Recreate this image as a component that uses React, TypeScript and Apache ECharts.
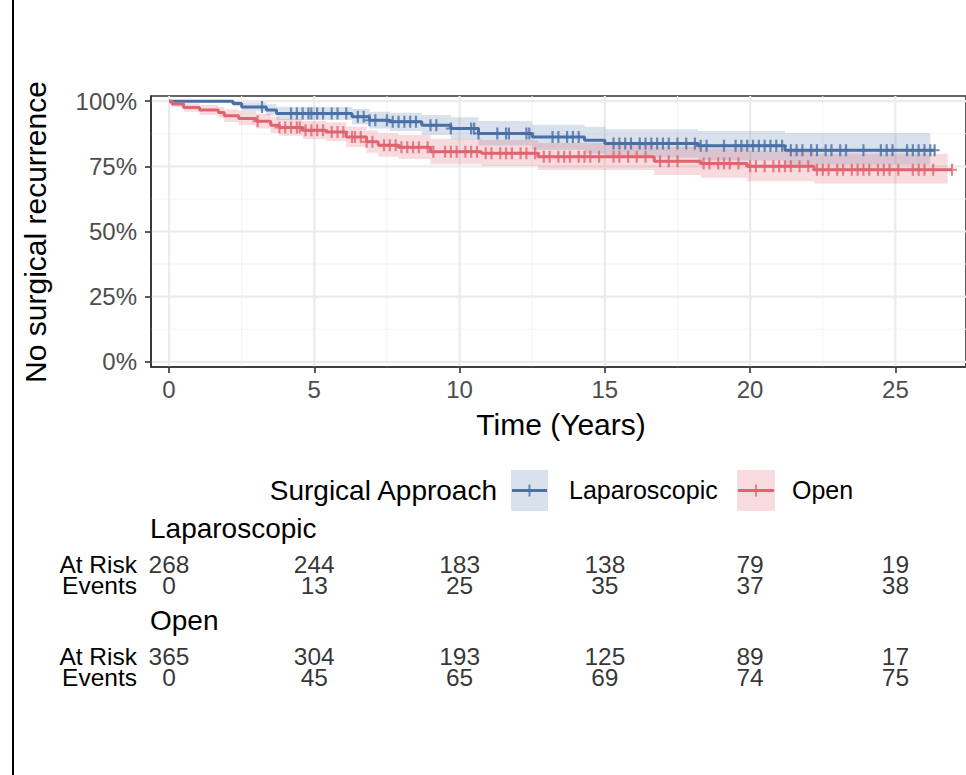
import React, { useEffect, useRef } from "react";
import * as echarts from "echarts";

// ---------- data ----------
const lapTime = [0, 2.2, 2.5, 3.35, 3.7, 6.3, 6.9, 7.6, 8.7, 9.7, 10.65, 12.5, 14.3, 15.0, 18.2, 21.2];
const lapSurv = [100, 99.1, 97.8, 96.6, 95.3, 94.0, 92.7, 92.1, 90.8, 89.5, 87.6, 86.3, 85.0, 83.8, 82.9, 81.2];
const lapLower = [100, 98.0, 96.1, 94.5, 92.8, 91.1, 89.5, 88.6, 87.0, 85.4, 83.0, 81.4, 79.8, 78.3, 77.2, 75.6];
const lapUpper = [100, 100, 99.5, 98.8, 97.9, 97.0, 96.0, 95.6, 94.7, 93.8, 92.4, 91.0, 90.2, 89.2, 88.6, 87.8];
const lapBandEnd = 26.2;
const lapLineEnd = 26.35;
const lapCensor = [3.2, 4.2, 4.4, 4.6, 4.8, 4.9, 5.1, 5.3, 5.6, 5.8, 6.1, 6.5, 6.7, 6.9, 7.1, 7.5, 7.7, 7.9, 8.1, 8.3, 8.5, 9.0, 9.2, 9.7, 10.4, 10.5, 10.65, 11.3, 11.6, 11.7, 12.3, 12.4, 13.2, 13.4, 13.7, 13.9, 14.1, 15.3, 15.5, 15.7, 15.9, 16.2, 16.4, 16.6, 16.8, 17.0, 17.2, 17.5, 17.8, 18.1, 18.3, 18.5, 19.1, 19.5, 19.7, 19.9, 20.1, 20.3, 20.5, 20.7, 20.9, 21.1, 21.4, 21.6, 21.8, 22.1, 22.3, 22.6, 22.8, 23.1, 23.3, 23.9, 24.5, 24.7, 24.9, 25.4, 25.6, 25.8, 26.0, 26.2, 26.35];

const openTime = [0, 0.1, 0.5, 1.05, 1.7, 1.9, 2.4, 3.0, 3.5, 3.8, 4.6, 5.4, 6.1, 6.8, 7.2, 7.9, 9.0, 10.75, 12.7, 16.7, 18.3, 19.9, 22.2];
const openSurv = [100, 98.9, 97.6, 96.6, 95.7, 94.4, 93.4, 92.3, 90.8, 89.9, 88.9, 88.2, 86.3, 84.4, 83.1, 82.3, 80.6, 80.0, 78.7, 77.0, 76.1, 75.0, 73.7];
const openLower = [100, 97.8, 96.0, 94.7, 93.6, 92.0, 90.8, 89.5, 87.8, 86.7, 85.5, 84.6, 82.4, 80.2, 78.7, 77.8, 75.8, 75.1, 73.6, 71.7, 70.6, 69.3, 68.4];
const openUpper = [100, 100, 99.2, 98.5, 97.9, 96.9, 96.1, 95.2, 93.9, 93.2, 92.4, 91.9, 90.3, 88.8, 87.7, 87.0, 85.6, 85.1, 84.0, 82.6, 81.9, 81.0, 79.8];
const openBandEnd = 26.8;
const openLineEnd = 26.95;
const openCensor = [3.05, 3.8, 4.0, 4.2, 4.4, 4.5, 4.7, 4.9, 5.1, 5.3, 5.6, 5.8, 6.0, 6.3, 6.4, 6.6, 6.8, 7.0, 7.4, 7.6, 7.8, 8.0, 8.2, 8.4, 8.6, 8.9, 9.1, 9.5, 9.7, 9.9, 10.2, 10.4, 10.6, 10.9, 11.1, 11.4, 11.6, 11.8, 12.1, 12.3, 12.6, 12.9, 13.1, 13.4, 13.6, 13.8, 14.1, 14.3, 14.5, 14.8, 15.3, 15.5, 15.8, 16.1, 16.4, 16.9, 17.2, 17.5, 18.4, 18.6, 18.9, 19.1, 19.3, 19.6, 20.0, 20.2, 20.5, 20.8, 21.0, 21.2, 21.4, 21.7, 22.0, 22.3, 22.5, 22.7, 23.0, 23.2, 23.5, 23.7, 23.9, 24.1, 24.4, 24.6, 24.8, 25.1, 25.6, 25.8, 26.0, 26.3, 26.95];

const xTicks = [0, 5, 10, 15, 20, 25];
const xMinorGrid = [2.5, 7.5, 12.5, 17.5, 22.5];
const yTicks = [0, 25, 50, 75, 100];
const yMinorGrid = [12.5, 37.5, 62.5, 87.5];

const tableTimes = [0, 5, 10, 15, 20, 25];
const lapAtRisk = [268, 244, 183, 138, 79, 19];
const lapEvents = [0, 13, 25, 35, 37, 38];
const openAtRisk = [365, 304, 193, 125, 89, 17];
const openEvents = [0, 45, 65, 69, 74, 75];
const rowNames = ["At Risk", "Events"];

// ---------- style ----------
const FONT = "'Liberation Sans', Arial, Helvetica, sans-serif";
const BLUE = "#4A6FA5";
const RED = "#E0646F";
const BLUE_FILL = "rgba(74,111,165,0.21)";
const RED_FILL = "rgba(224,100,111,0.23)";
const X_MIN = -0.62;
const X_MAX = 27.43;
const Y_MIN = -2;
const Y_MAX = 102;
const GRID_LEFT = 151;
const GRID_WIDTH = 820;

function survAt(times: number[], surv: number[], t: number) {
  let s = surv[0];
  for (let i = 0; i < times.length; i++) if (times[i] <= t) s = surv[i];
  return s;
}

function bandPoints(times: number[], lo: number[], hi: number[], end: number, api: any) {
  const pts: number[][] = [];
  for (let i = 0; i < times.length; i++) {
    const t1 = i + 1 < times.length ? times[i + 1] : end;
    pts.push(api.coord([times[i], hi[i]]), api.coord([t1, hi[i]]));
  }
  for (let i = times.length - 1; i >= 0; i--) {
    const t1 = i + 1 < times.length ? times[i + 1] : end;
    pts.push(api.coord([t1, lo[i]]), api.coord([times[i], lo[i]]));
  }
  return pts;
}

const CENSOR_SYMBOL = "path://M3.9,0H6.1V12H3.9Z M0,5H10V7H0Z";

export default function App() {
  const ref = useRef<HTMLDivElement>(null);
  useEffect(() => {
    if (!ref.current) return;
    const chart = echarts.init(ref.current, undefined, { renderer: "svg" });

    const tableXAxis = (gridIndex: number) => ({
      type: "value", gridIndex, min: X_MIN, max: X_MAX, show: false,
    });
    const tableYAxis = (gridIndex: number) => ({
      type: "category", gridIndex, data: rowNames, inverse: true,
      axisLine: { show: false }, axisTick: { show: false }, splitLine: { show: false },
      axisLabel: { interval: 0, hideOverlap: false, color: "#000", fontSize: 24.5, lineHeight: 20, fontFamily: FONT, margin: 14 },
    });
    const tableSeries = (gridIndex: number, atRisk: number[], events: number[]) => ({
      type: "scatter", xAxisIndex: gridIndex, yAxisIndex: gridIndex,
      symbol: "circle", symbolSize: 1, itemStyle: { color: "transparent" },
      silent: true,
      data: [
        ...tableTimes.map((t, i) => [t, 0, atRisk[i]]),
        ...tableTimes.map((t, i) => [t, 1, events[i]]),
      ],
      labelLayout: { hideOverlap: false },
      label: {
        show: true, position: "inside", color: "#000", fontSize: 24.5, lineHeight: 20, fontFamily: FONT,
        formatter: (p: any) => String(p.value[2]),
      },
    });

    const gridLineSeries = (vertical: boolean, values: number[], major: boolean) => ({
      type: "custom", xAxisIndex: 0, yAxisIndex: 0, z: 0, silent: true,
      data: values.map((v) => (vertical ? [v, 50] : [5, v])),
      renderItem: (params: any, api: any) => {
        const cs = params.coordSys;
        const p = api.coord([api.value(0), api.value(1)]);
        const shape = vertical
          ? { x1: p[0], y1: cs.y, x2: p[0], y2: cs.y + cs.height }
          : { x1: cs.x, y1: p[1], x2: cs.x + cs.width, y2: p[1] };
        return {
          type: "line", shape,
          style: { stroke: major ? "#ebebeb" : "#f4f4f4", lineWidth: major ? 2.2 : 1.1 },
        };
      },
    });

    const bandSeries = (times: number[], lo: number[], hi: number[], end: number, fill: string) => ({
      type: "custom", xAxisIndex: 0, yAxisIndex: 0, z: 1, silent: true, clip: true,
      data: [[0, 50]],
      renderItem: (_params: any, api: any) => ({
        type: "polygon",
        shape: { points: bandPoints(times, lo, hi, end, api) },
        style: { fill },
      }),
    });

    const lineSeries = (times: number[], surv: number[], end: number, color: string) => ({
      type: "line", xAxisIndex: 0, yAxisIndex: 0, z: 3, step: "end", showSymbol: false, silent: true,
      data: [...times.map((t, i) => [t, surv[i]]), [end, surv[surv.length - 1]]],
      lineStyle: { color, width: 3 },
      itemStyle: { color },
    });

    const censorSeries = (times: number[], surv: number[], censor: number[], color: string) => ({
      type: "scatter", xAxisIndex: 0, yAxisIndex: 0, z: 4, silent: true,
      symbol: CENSOR_SYMBOL, symbolSize: [10, 12],
      itemStyle: { color, opacity: 0.8 },
      data: censor.map((t) => [t, survAt(times, surv, t)]),
    });

    const option: any = {
      animation: false,
      backgroundColor: "#fff",
      textStyle: { fontFamily: FONT },
      grid: [
        { left: GRID_LEFT, top: 96, width: GRID_WIDTH, height: 271, show: true, backgroundColor: "#fff", borderColor: "#333", borderWidth: 1.6 },
        { left: GRID_LEFT, top: 554, width: GRID_WIDTH, height: 42, show: false },
        { left: GRID_LEFT, top: 646, width: GRID_WIDTH, height: 42, show: false },
      ],
      xAxis: [
        {
          type: "value", gridIndex: 0, min: X_MIN, max: X_MAX,
          axisLine: { show: true, onZero: false, lineStyle: { color: "#333", width: 1.6 } },
          axisTick: { show: true, customValues: xTicks, length: 6, lineStyle: { color: "#333", width: 1.6 } },
          axisLabel: { customValues: xTicks, color: "#4d4d4d", fontSize: 24, fontFamily: FONT, margin: 10 },
          splitLine: { show: false },
        },
        tableXAxis(1),
        tableXAxis(2),
      ],
      yAxis: [
        {
          type: "value", gridIndex: 0, min: Y_MIN, max: Y_MAX,
          axisLine: { show: true, onZero: false, lineStyle: { color: "#333", width: 1.6 } },
          axisTick: { show: true, customValues: yTicks, length: 6, lineStyle: { color: "#333", width: 1.6 } },
          axisLabel: { customValues: yTicks, color: "#4d4d4d", fontSize: 24, fontFamily: FONT, margin: 14, formatter: (v: number) => `${v}%` },
          splitLine: { show: false },
        },
        tableYAxis(1),
        tableYAxis(2),
      ],
      series: [
        gridLineSeries(true, xMinorGrid, false),
        gridLineSeries(false, yMinorGrid, false),
        gridLineSeries(true, xTicks, true),
        gridLineSeries(false, yTicks, true),
        bandSeries(lapTime, lapLower, lapUpper, lapBandEnd, BLUE_FILL),
        bandSeries(openTime, openLower, openUpper, openBandEnd, RED_FILL),
        lineSeries(lapTime, lapSurv, lapLineEnd, BLUE),
        lineSeries(openTime, openSurv, openLineEnd, RED),
        censorSeries(lapTime, lapSurv, lapCensor, BLUE),
        censorSeries(openTime, openSurv, openCensor, RED),
        tableSeries(1, lapAtRisk, lapEvents),
        tableSeries(2, openAtRisk, openEvents),
      ],
      graphic: [
        { type: "line", shape: { x1: 13, y1: 0, x2: 13, y2: 775 }, style: { stroke: "#000", lineWidth: 2 }, silent: true },
        {
          type: "text", x: 35, y: 232, rotation: Math.PI / 2,
          style: { text: "No surgical recurrence", fill: "#000", font: `30px ${FONT}`, align: "center", verticalAlign: "middle" },
        },
        {
          type: "text", x: 561, y: 424,
          style: { text: "Time (Years)", fill: "#000", font: `30px ${FONT}`, align: "center", verticalAlign: "middle" },
        },
        {
          type: "text", x: 497, y: 490,
          style: { text: "Surgical Approach", fill: "#000", font: `28px ${FONT}`, align: "right", verticalAlign: "middle" },
        },
        { type: "rect", shape: { x: 511, y: 470, width: 37, height: 41 }, style: { fill: BLUE_FILL } },
        { type: "line", shape: { x1: 512, y1: 490.5, x2: 547, y2: 490.5 }, style: { stroke: BLUE, lineWidth: 3 } },
        { type: "line", shape: { x1: 529.5, y1: 484.5, x2: 529.5, y2: 496.5 }, style: { stroke: BLUE, lineWidth: 2, opacity: 0.8 } },
        {
          type: "text", x: 569, y: 490,
          style: { text: "Laparoscopic", fill: "#000", font: `25px ${FONT}`, align: "left", verticalAlign: "middle" },
        },
        { type: "rect", shape: { x: 737, y: 470, width: 38, height: 41 }, style: { fill: RED_FILL } },
        { type: "line", shape: { x1: 738, y1: 490.5, x2: 774, y2: 490.5 }, style: { stroke: RED, lineWidth: 3 } },
        { type: "line", shape: { x1: 756, y1: 484.5, x2: 756, y2: 496.5 }, style: { stroke: RED, lineWidth: 2, opacity: 0.8 } },
        {
          type: "text", x: 792, y: 490,
          style: { text: "Open", fill: "#000", font: `25px ${FONT}`, align: "left", verticalAlign: "middle" },
        },
        {
          type: "text", x: 150, y: 528,
          style: { text: "Laparoscopic", fill: "#000", font: `28px ${FONT}`, align: "left", verticalAlign: "middle" },
        },
        {
          type: "text", x: 150, y: 620,
          style: { text: "Open", fill: "#000", font: `28px ${FONT}`, align: "left", verticalAlign: "middle" },
        },
      ],
    };

    chart.setOption(option);
    return () => chart.dispose();
  }, []);

  return (
    <div
      ref={ref}
      style={{ position: "fixed", left: 0, top: 0, width: 966, height: 775, background: "#fff" }}
    />
  );
}
